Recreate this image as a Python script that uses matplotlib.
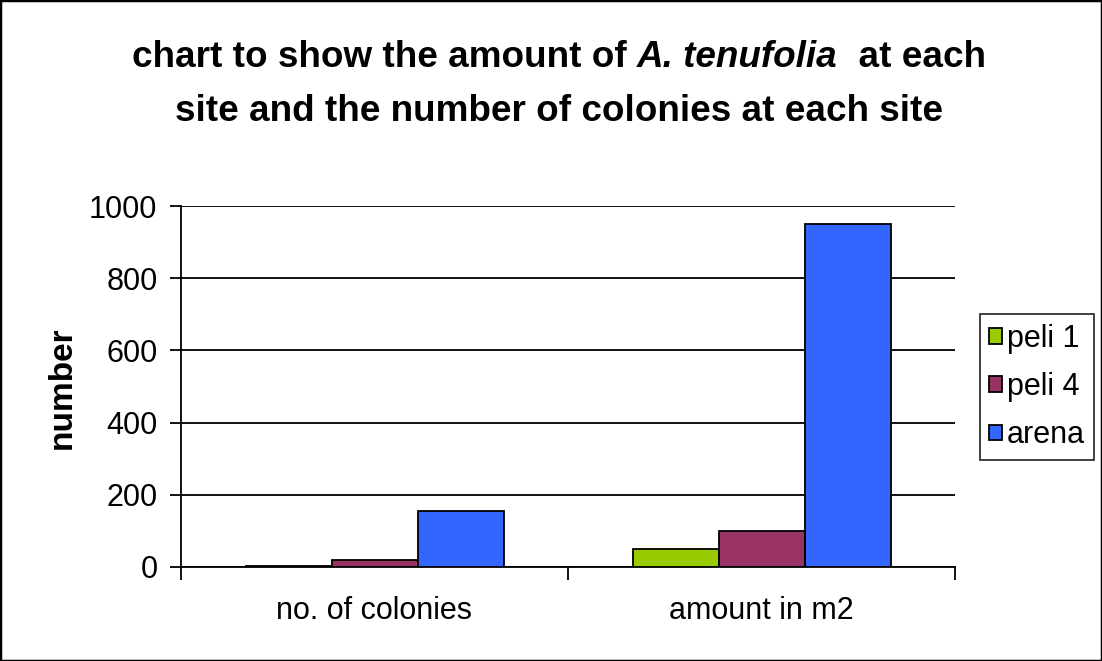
import matplotlib
matplotlib.use("Agg")
import matplotlib.pyplot as plt
import numpy as np
from matplotlib.patches import Rectangle

plt.rcParams["font.family"] = ["Liberation Sans", "DejaVu Sans"]

categories = ["no. of colonies", "amount in m2"]
sites = ["peli 1", "peli 4", "arena"]
peli_1 = [4, 50]
peli_4 = [20, 100]
arena = [155, 950]
colours = ["#99cc00", "#993366", "#3366ff"]
y_ticks = [0, 200, 400, 600, 800, 1000]

W, H = 1102, 661
fig = plt.figure(figsize=(W / 100, H / 100), dpi=100)
ax = fig.add_axes([181 / W, 1 - 567 / H, (955 - 181) / W, (567 - 206) / H])

# excel style: gap width 150% -> bar width = 1/4.5 of a category
width = 1 / 4.5
x = np.arange(len(categories))
for i, (vals, name, c) in enumerate(zip([peli_1, peli_4, arena], sites, colours)):
    ax.bar(x + (i - 1) * width, vals, width, color=c, edgecolor="black",
           linewidth=1.3, label=name, zorder=3)

ax.set_xlim(-0.5, len(categories) - 0.5)
ax.set_ylim(0, 1000)
ax.set_yticks(y_ticks)
ax.yaxis.grid(True, color="black", linewidth=1.3)
ax.set_axisbelow(True)

ax.set_xticks(np.arange(len(categories) + 1) - 0.5)
ax.set_xticklabels([])
ax.set_xticks(x, minor=True)
ax.set_xticklabels(categories, minor=True, fontsize=22)
ax.tick_params(axis="x", which="minor", length=0, pad=21)
ax.tick_params(axis="x", which="major", length=9, width=1.3, direction="out")
ax.tick_params(axis="y", length=8, width=1.3, direction="out", labelsize=22, pad=9)
for s in ["top", "right"]:
    ax.spines[s].set_visible(False)
for s in ["left", "bottom"]:
    ax.spines[s].set_linewidth(1.3)

fig.text(62 / W, 1 - 388 / H, "number", rotation=90, fontsize=24,
         fontweight="bold", ha="center", va="center")

# title: two lines, with the species name in bold italic
renderer = fig.canvas.get_renderer()
tsize = 26.6
pieces = [("chart to show the amount of ", "normal"),
          ("A. tenufolia", "italic"),
          ("  at each", "normal")]
texts = []
for s, style in pieces:
    t = fig.text(0, 1 - 67 / H, s, fontsize=tsize, fontweight="bold",
                 fontstyle=style, va="baseline", ha="left")
    texts.append(t)
widths = [t.get_window_extent(renderer).width for t in texts]
start = 559 - sum(widths) / 2
for t, w in zip(texts, widths):
    t.set_x(start / W)
    start += w
fig.text(559 / W, 1 - 121 / H, "site and the number of colonies at each site",
         fontsize=tsize, fontweight="bold", ha="center", va="baseline")

leg = ax.legend(loc="center left", bbox_to_anchor=(980 / W, 1 - 387 / H),
                bbox_transform=fig.transFigure, fontsize=22, frameon=True,
                fancybox=False, edgecolor="black", handlelength=0.42,
                handleheight=0.42, handletextpad=0.15, labelspacing=0.6,
                borderpad=0.3, borderaxespad=0)
leg.get_frame().set_linewidth(1.3)

fig.patches.append(Rectangle((0, 0), 1, 1, transform=fig.transFigure,
                             fill=False, edgecolor="black", linewidth=2.5))

plt.savefig("out.png", dpi=100)
